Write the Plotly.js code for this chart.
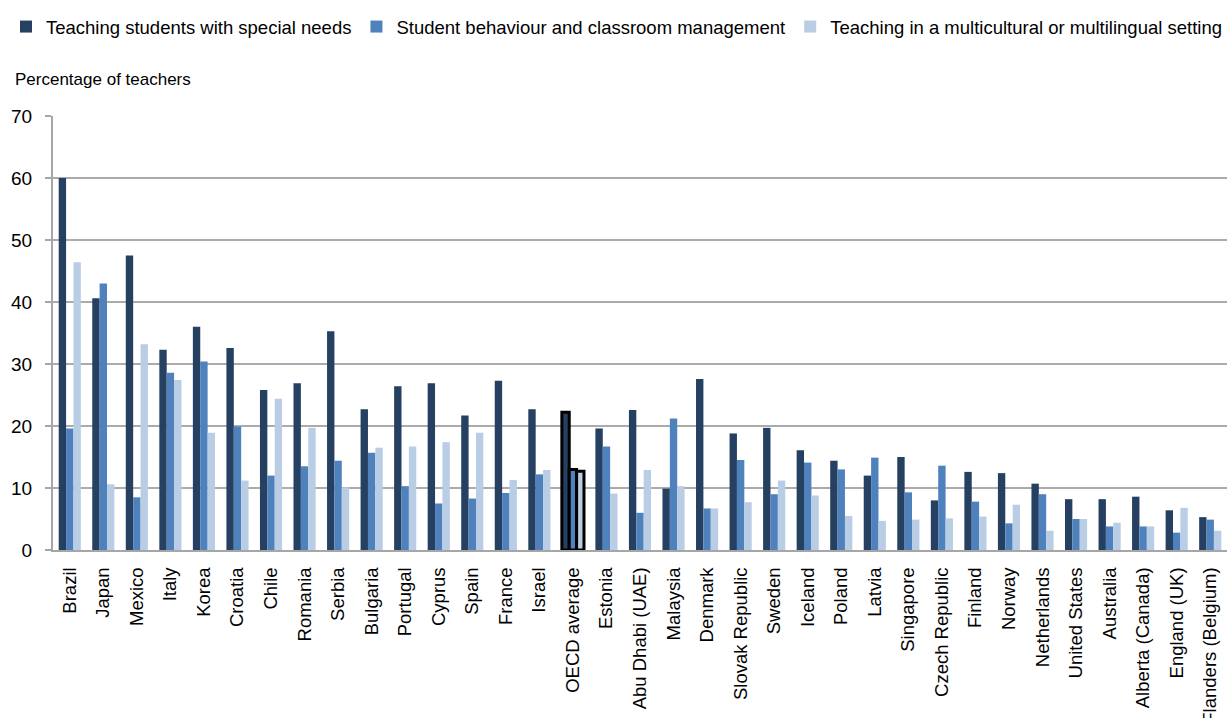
<!DOCTYPE html>
<html>
<head>
<meta charset="utf-8">
<script src="https://cdn.plot.ly/plotly-3.0.1.min.js"></script>
<style>
html,body{margin:0;padding:0;background:#fff;}
#chart{width:1227px;height:718px;}
</style>
</head>
<body>
<div id="chart"></div>
<script>
var countries = ["Brazil","Japan","Mexico","Italy","Korea","Croatia","Chile","Romania","Serbia","Bulgaria","Portugal","Cyprus","Spain","France","Israel","OECD average","Estonia","Abu Dhabi (UAE)","Malaysia","Denmark","Slovak Republic","Sweden","Iceland","Poland","Latvia","Singapore","Czech Republic","Finland","Norway","Netherlands","United States","Australia","Alberta (Canada)","England (UK)","Flanders (Belgium)"];
var specialNeeds = [60.0,40.6,47.5,32.3,36.0,32.6,25.8,26.9,35.3,22.7,26.4,26.9,21.7,27.3,22.7,22.2,19.6,22.6,9.9,27.6,18.8,19.7,16.1,14.4,12.0,15.0,8.0,12.6,12.4,10.7,8.2,8.2,8.6,6.4,5.3];
var behaviour = [19.6,43.0,8.5,28.6,30.4,19.9,12.0,13.5,14.4,15.7,10.3,7.5,8.3,9.2,12.2,13.0,16.7,6.0,21.2,6.7,14.5,9.0,14.1,13.0,14.9,9.3,13.6,7.8,4.3,9.0,5.0,3.8,3.8,2.8,4.9];
var multicultural = [46.4,10.6,33.2,27.4,18.9,11.2,24.4,19.7,10.1,16.5,16.7,17.4,18.9,11.3,12.9,12.7,9.1,12.9,10.3,6.7,7.7,11.2,8.8,5.5,4.7,4.9,5.1,5.4,7.3,3.1,5.0,4.4,3.8,6.8,3.1];
var seriesNames = ["Teaching students with special needs","Student behaviour and classroom management","Teaching in a multicultural or multilingual setting"];
var seriesColors = ["#254061","#4F81BD","#B9CDE5"];

var highlight = "OECD average";
function lineWidths(){ return countries.map(function(c){ return c===highlight ? 3 : 0; }); }
function lineColors(){ return countries.map(function(c){ return c===highlight ? "#000000" : "rgba(0,0,0,0)"; }); }

var data = [specialNeeds, behaviour, multicultural].map(function(vals, i){
  return {
    type: "bar",
    name: seriesNames[i],
    x: countries,
    y: vals,
    marker: {color: seriesColors[i], line: {width: lineWidths(), color: lineColors()}},
    hoverinfo: "x+y+name"
  };
});

var font = "'Liberation Sans', Arial, Helvetica, sans-serif";
var layout = {
  width: 1227, height: 718,
  margin: {l: 53, r: 0, t: 116, b: 168},
  paper_bgcolor: "#ffffff",
  plot_bgcolor: "#ffffff",
  barmode: "group",
  bargap: 0.34,
  bargroupgap: 0,
  font: {family: font, color: "#000000", size: 18.5},
  showlegend: true,
  legend: {
    orientation: "h",
    x: -0.033, xanchor: "left",
    y: 1.205, yanchor: "middle",
    font: {family: font, size: 18.5, color: "#000000"},
    itemclick: false, itemdoubleclick: false,
    tracegroupgap: 0
  },
  xaxis: {
    type: "category",
    tickangle: -90,
    tickfont: {family: font, size: 18.5, color: "#000000"},
    ticklabelstandoff: 8,
    showgrid: false,
    showline: true, linecolor: "#A6A6A6", linewidth: 2,
    ticks: "",
    automargin: false
  },
  yaxis: {
    range: [0, 70],
    dtick: 10,
    tickfont: {family: font, size: 19, color: "#000000"},
    ticklabelstandoff: 9,
    showgrid: true, gridcolor: "#ABABAB", gridwidth: 2,
    showline: true, linecolor: "#A6A6A6", linewidth: 2,
    ticks: "outside", ticklen: 6, tickcolor: "#A6A6A6", tickwidth: 2,
    zeroline: false,
    automargin: false
  },
  annotations: [{
    text: "Percentage of teachers",
    xref: "paper", yref: "paper",
    x: -0.034, y: 1.085,
    xanchor: "left", yanchor: "middle",
    showarrow: false,
    font: {family: font, size: 17, color: "#000000"}
  }]
};

Plotly.newPlot("chart", data, layout, {displayModeBar: false});
</script>
</body>
</html>
